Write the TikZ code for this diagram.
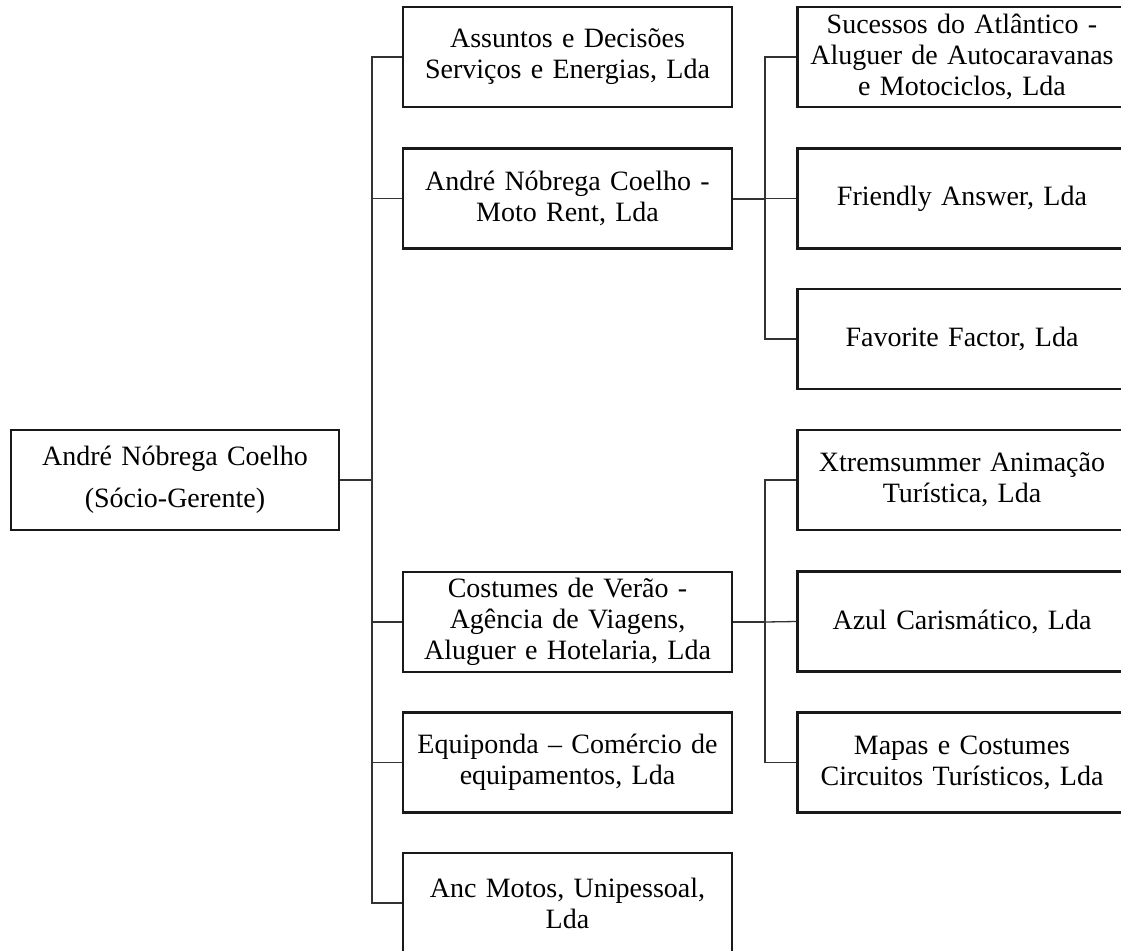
\documentclass[tikz,border=0pt]{standalone}
\usepackage{fontspec}
\setmainfont{Liberation Serif}
\tikzstyle{empresa}=[draw=black!90, line width=2.4pt, minimum width=329pt,
  minimum height=100pt, text width=318pt, align=center, inner sep=0pt,
  font=\fontsize{28}{31}\selectfont]
\tikzstyle{socio}=[empresa, minimum width=328pt,
  font=\fontsize{28}{42}\selectfont]
\tikzstyle{line}=[draw, line width=1.3pt, color=black!80]
\tikzstyle{linegrossa}=[line, line width=2pt]
\newcommand{\firma}[2]{node (#1) [empresa] {#2}}

\begin{document}
\begin{tikzpicture}[x=1pt,y=-1pt]

  \useasboundingbox (0,0) rectangle (1121,950);
  \clip (0,0) rectangle (1121,950);

  % socio-gerente
  \path (175,480) node (SOCIO) [socio] {André Nóbrega Coelho\\(Sócio-Gerente)};

  % empresas do primeiro nivel
  \path (567.5,57) \firma{ASSUNTOS}{Assuntos e Decisões\\Serviços e Energias, Lda};
  \path (567.5,198.5) \firma{MOTORENT}{André Nóbrega Coelho -\\Moto Rent, Lda};
  \path (567.5,622) \firma{COSTUMES}{Costumes de Verão -\\Agência de Viagens,\\Aluguer e Hotelaria, Lda};
  \path (567.5,762.5) \firma{EQUIPONDA}{Equiponda -- Comércio de\\equipamentos, Lda};
  \path (567.5,903) \firma{ANCMOTOS}{Anc Motos, Unipessoal,\\Lda};

  % empresas do segundo nivel
  \path (962,57) \firma{SUCESSOS}{Sucessos do Atlântico -\\Aluguer de Autocaravanas\\e Motociclos, Lda};
  \path (962,198.5) \firma{FRIENDLY}{Friendly Answer, Lda};
  \path (962,339) \firma{FAVORITE}{Favorite Factor, Lda};
  \path (962,480) \firma{XTREM}{Xtremsummer Animação\\Turística, Lda};
  \path (962,621.5) \firma{AZUL}{Azul Carismático, Lda};
  \path (962,762.5) \firma{MAPAS}{Mapas e Costumes\\Circuitos Turísticos, Lda};

  % pontos de ramificacao
  \coordinate (TRONCO) at (372,480);
  \coordinate (RAMOMOTO) at (765,198.5);
  \coordinate (RAMOVERAO) at (765,622);

  % ligacoes do socio-gerente
  \path [linegrossa] (SOCIO.east) -- (TRONCO);
  \path [line] (ASSUNTOS.west) -| (TRONCO) |- (ANCMOTOS.west);
  \path [line] (TRONCO |- MOTORENT.west) -- (MOTORENT.west);
  \path [line] (TRONCO |- COSTUMES.west) -- (COSTUMES.west);
  \path [line] (TRONCO |- EQUIPONDA.west) -- (EQUIPONDA.west);

  % ligacoes da Moto Rent
  \path [linegrossa] (MOTORENT.east) -- (RAMOMOTO);
  \path [line] (SUCESSOS.west) -| (RAMOMOTO) |- (FAVORITE.west);
  \path [line] (RAMOMOTO) -- (FRIENDLY.west);

  % ligacoes da Costumes de Verao
  \path [linegrossa] (COSTUMES.east) -- (RAMOVERAO);
  \path [line] (XTREM.west) -| (RAMOVERAO) |- (MAPAS.west);
  \path [line] (RAMOVERAO) -- (AZUL.west);

\end{tikzpicture}
\end{document}
